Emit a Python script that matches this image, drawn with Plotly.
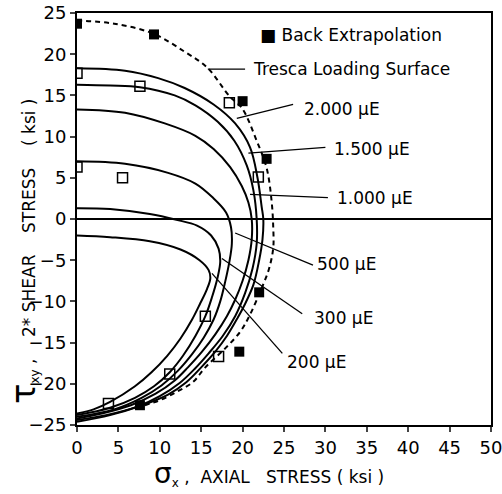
import plotly.graph_objects as go

# ---- data ----
tresca_x = [0, 4.5, 9.2, 13.0, 15.7, 18.5, 19.9, 21.7, 22.9, 23.5, 23.7, 23.7, 23.2, 22.3, 20.8, 19.7, 17.9, 15.5, 14.0, 12.0, 10.0, 8.8, 7.6]
tresca_y = [24.1, 23.7, 22.5, 20.3, 18.4, 14.8, 13.5, 9.5, 6.2, 2.2, -1.0, -3.5, -6.0, -8.4, -11.8, -13.7, -15.7, -18.0, -19.8, -21.0, -22.0, -22.4, -22.8]

c2000_x = [0, 5.8, 9.8, 13.0, 16.5, 19.1, 20.9, 21.8, 22.3, 22.5, 22.4, 22.0, 21.3, 20.2, 19.4, 18.1, 16.7, 15.0, 13.2, 11.0, 7.6, 4.0, 0]
c2000_y = [18.3, 18.0, 17.1, 15.9, 13.9, 11.6, 8.7, 5.0, 1.5, 0, -2.5, -5.0, -8.0, -10.5, -12.0, -14.2, -16.1, -18.0, -19.8, -21.3, -22.7, -23.8, -24.6]

c1500_x = [0, 4.0, 7.6, 11.8, 14.3, 17.0, 19.0, 20.5, 21.3, 21.7, 21.7, 21.2, 20.3, 19.1, 17.6, 15.9, 14.2, 12.4, 10.0, 7.2, 3.5, 0]
c1500_y = [16.3, 16.2, 16.0, 15.0, 13.8, 11.8, 9.5, 6.5, 3.5, 0, -3.0, -6.0, -9.0, -11.8, -14.2, -16.3, -18.2, -19.9, -21.5, -22.8, -23.8, -24.4]

c1000_x = [0, 5.8, 10.6, 14.3, 16.5, 18.5, 19.9, 20.7, 21.1, 21.1, 20.7, 20.0, 19.1, 18.1, 16.7, 15.1, 13.4, 11.8, 9.5, 6.5, 3.0, 0]
c1000_y = [13.3, 12.9, 11.6, 10.1, 8.5, 6.3, 4.0, 2.0, 0, -2.5, -5.0, -7.5, -9.8, -11.8, -14.0, -16.1, -18.0, -19.6, -21.2, -22.6, -23.6, -24.2]

c500_x = [0, 5.8, 11.0, 14.3, 16.4, 18.0, 18.6, 18.7, 18.4, 17.9, 17.3, 16.5, 15.3, 13.9, 12.2, 10.2, 7.8, 4.5, 0]
c500_y = [7.0, 6.7, 5.6, 4.3, 2.6, 0.8, -1.0, -3.0, -5.2, -7.6, -10.0, -12.2, -14.4, -16.4, -18.4, -20.2, -21.7, -23.1, -24.0]

c300_x = [0, 4.0, 8.8, 12.0, 14.5, 16.2, 17.1, 17.3, 17.0, 16.3, 15.5, 14.3, 12.8, 11.2, 9.3, 7.0, 4.0, 0]
c300_y = [1.3, 1.2, 0.6, -0.1, -0.8, -2.0, -3.6, -5.2, -7.0, -9.5, -11.8, -14.2, -16.6, -18.6, -20.3, -21.7, -22.9, -23.8]

c200_x = [0, 4.0, 8.8, 12.5, 14.8, 15.9, 16.1, 15.7, 14.9, 13.9, 12.5, 10.9, 9.0, 7.0, 4.0, 2.0, 0]
c200_y = [-2.0, -2.2, -2.7, -3.7, -5.0, -6.2, -7.2, -8.5, -10.2, -12.2, -14.5, -16.6, -18.6, -20.3, -22.2, -23.1, -23.6]

back_x = [0, 9.3, 20.0, 22.9, 22.0, 19.6, 7.6]
back_y = [23.7, 22.4, 14.3, 7.3, -8.9, -16.1, -22.6]

open_x = [0, 7.6, 18.4, 0, 5.5, 21.9, 15.5, 3.8, 11.2, 17.1]
open_y = [17.7, 16.1, 14.1, 6.3, 5.0, 5.1, -11.8, -22.4, -18.8, -16.7]

# labels: text, leader start (x,y), leader end (x,y), text anchor (x,y)
label_texts = ["Tresca Loading Surface", "2.000 μE", "1.500 μE", "1.000 μE", "500 μE", "300 μE", "200 μE"]
leader_x0 = [15.8, 19.3, 20.7, 20.9, 19.1, 17.5, 16.3]
leader_y0 = [18.2, 12.2, 8.0, 3.0, -1.7, -4.8, -6.6]
leader_x1 = [20.3, 26.1, 30.0, 30.3, 28.5, 27.2, 24.8]
leader_y1 = [18.2, 13.9, 8.7, 2.6, -5.6, -11.5, -16.3]
label_x = [21.0, 27.2, 30.8, 31.1, 28.7, 28.4, 25.1]
label_y = [18.2, 13.4, 8.5, 2.6, -5.5, -12.0, -17.3]

x_ticks = [0, 5, 10, 15, 20, 25, 30, 35, 40, 45, 50]
y_ticks = [-25, -20, -15, -10, -5, 0, 5, 10, 15, 20, 25]

FONT = "DejaVu Sans"

fig = go.Figure()

fig.add_trace(go.Scatter(x=tresca_x, y=tresca_y, mode="lines",
                         line=dict(color="black", width=2, dash="5px,4px", shape="spline", smoothing=1.0)))
for cx, cy in [(c2000_x, c2000_y), (c1500_x, c1500_y), (c1000_x, c1000_y),
               (c500_x, c500_y), (c300_x, c300_y), (c200_x, c200_y)]:
    fig.add_trace(go.Scatter(x=cx, y=cy, mode="lines",
                             line=dict(color="black", width=2, shape="spline", smoothing=1.0)))

fig.add_trace(go.Scatter(x=open_x, y=open_y, mode="markers",
                         marker=dict(symbol="square-open", size=10, color="black", line=dict(width=1.5))))
fig.add_trace(go.Scatter(x=back_x, y=back_y, mode="markers",
                         marker=dict(symbol="square", size=10, color="black")))

for i in range(len(label_texts)):
    fig.add_shape(type="line", x0=leader_x0[i], y0=leader_y0[i], x1=leader_x1[i], y1=leader_y1[i],
                  line=dict(color="black", width=1.3))
    fig.add_annotation(x=label_x[i], y=label_y[i], text=label_texts[i], showarrow=False,
                       xanchor="left", yanchor="middle", font=dict(family=FONT, size=17, color="black"))

fig.add_annotation(x=(258 - 77) / 414, y=(425 - 35) / 412, xref="paper", yref="paper",
                   text="■ Back Extrapolation",
                   showarrow=False, xanchor="left", yanchor="middle",
                   font=dict(family=FONT, size=17, color="black"))

fig.add_annotation(x=(269 - 77) / 414, y=(425 - 473) / 412, xref="paper", yref="paper",
                   text="<span style='font-size:28px'>σ</span><sub>x</sub> ,  AXIAL   STRESS ( ksi )",
                   showarrow=False, xanchor="center", yanchor="middle",
                   font=dict(family=FONT, size=17, color="black"))
fig.add_annotation(x=(23 - 77) / 414, y=(425 - 251) / 412, xref="paper", yref="paper", textangle=-90,
                   text="<span style='font-size:34px'>τ</span><sub>xy</sub> ,    2* SHEAR    STRESS    ( ksi )",
                   showarrow=False, xanchor="center", yanchor="middle",
                   font=dict(family=FONT, size=17, color="black"))

fig.update_layout(
    width=502, height=494,
    margin=dict(l=77, r=11, t=13, b=69, autoexpand=False),
    paper_bgcolor="white", plot_bgcolor="white",
    showlegend=False,
    font=dict(family=FONT, color="black"),
)
fig.update_xaxes(range=[0, 50], tickvals=x_ticks, ticks="outside", ticklen=5, tickwidth=1.5,
                 showline=True, linecolor="black", linewidth=2, mirror=True, showgrid=False,
                 zeroline=False, automargin=False, ticklabeloverflow="allow",
                 tickfont=dict(family=FONT, size=18, color="black"))
fig.update_yaxes(range=[-25, 25], tickvals=y_ticks, ticks="outside", ticklen=5, tickwidth=1.5,
                 showline=True, linecolor="black", linewidth=2, mirror=True, showgrid=False,
                 zeroline=True, zerolinecolor="black", zerolinewidth=1.5, automargin=False,
                 ticklabeloverflow="allow",
                 tickfont=dict(family=FONT, size=18, color="black"))

# remove the browser's default 8px page margin so the figure fills the window exactly
fig.write_html("out.html", config={"displayModeBar": False},
               post_script="document.body.style.margin='0';document.body.style.overflow='hidden';")
